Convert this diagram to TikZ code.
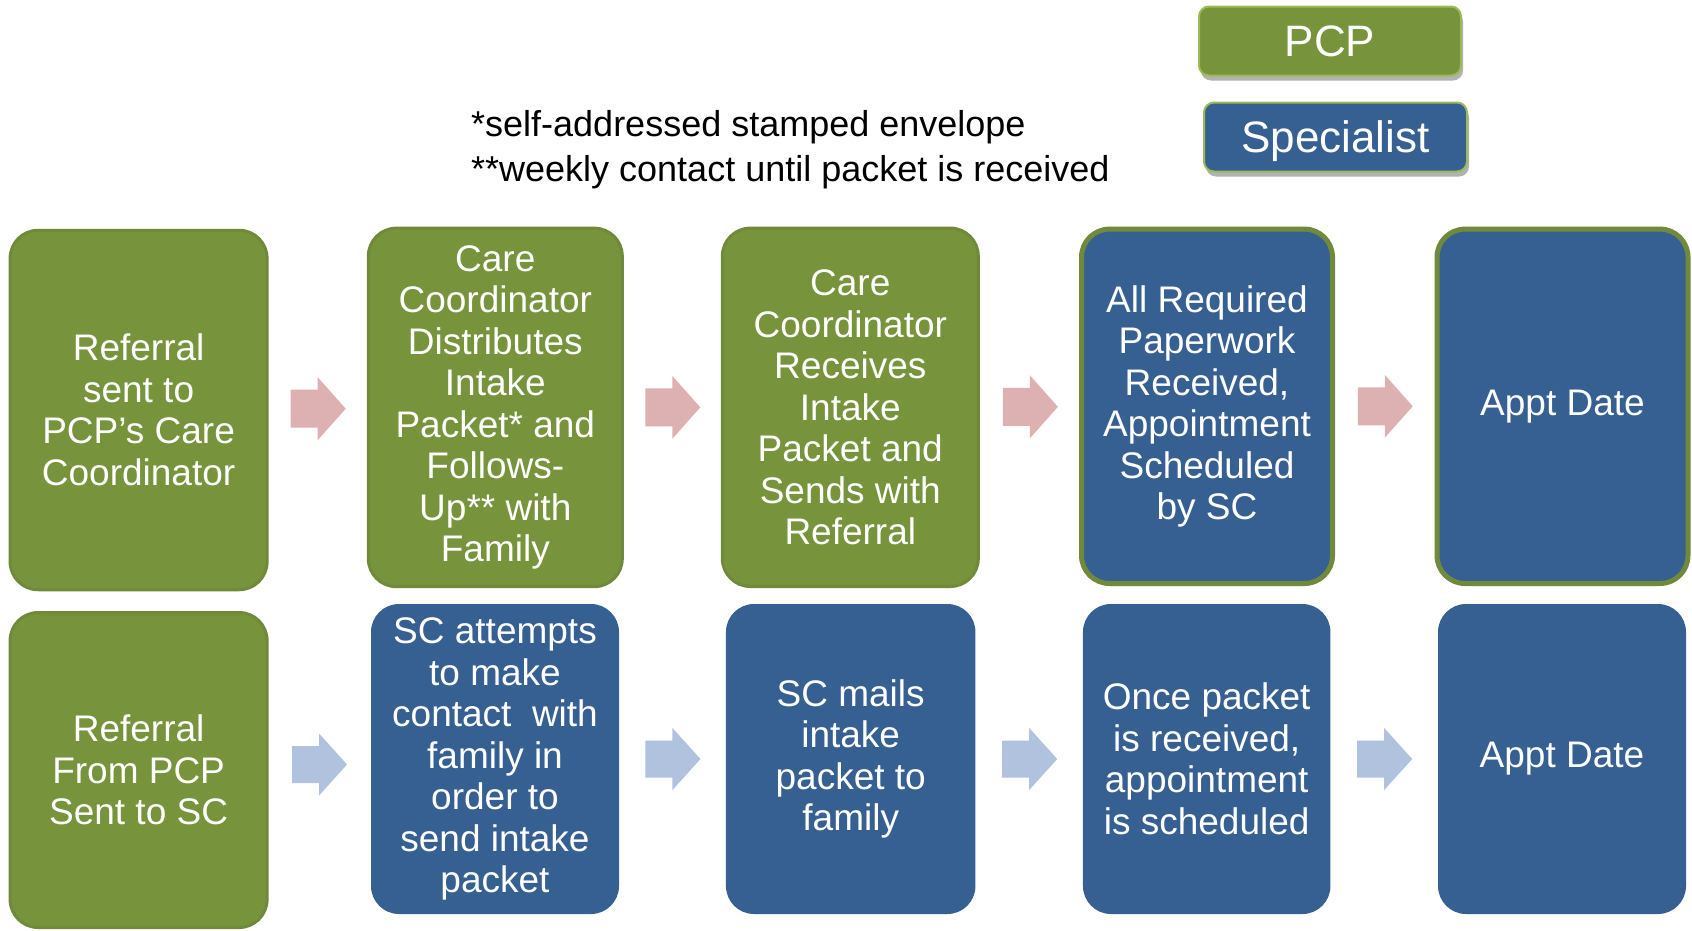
\documentclass[tikz,border=0pt]{standalone}
\usepackage{fontspec}
\setmainfont{Liberation Sans}
\usetikzlibrary{calc,shadows}
\definecolor{boxgreen}{HTML}{77933C}
\definecolor{edgegreen}{HTML}{70893A}
\definecolor{boxblue}{HTML}{376092}
\definecolor{legendedge}{HTML}{9BBB59}
\definecolor{arrowpink}{HTML}{DDB1B2}
\definecolor{arrowblue}{HTML}{B1C2DE}
\newcommand\boxfont{\fontsize{37}{41.5}\selectfont}
\newcommand\notefont{\fontsize{36}{45}\selectfont}
\newcommand\legendfont{\fontsize{44}{50}\selectfont}
\begin{document}
\begin{tikzpicture}[x=1pt,y=-1pt,
  box/.style={rounded corners=28pt, align=center, text=white, font=\boxfont, inner sep=0pt, outer sep=0pt},
  pcpbox/.style={box, fill=boxgreen, draw=edgegreen, line width=3pt},
  scbox/.style={box, fill=boxblue, draw=edgegreen, line width=5pt},
  scplain/.style={box, fill=boxblue},
  legendbox/.style={rounded corners=10pt, draw=legendedge, line width=2pt, text=white, font=\legendfont, inner sep=0pt, outer sep=0pt,
    drop shadow={shadow xshift=2pt, shadow yshift=-5pt, opacity=0.3, fill=black}},
  pinkarrow/.pic={\fill[arrowpink] (-27,-19) -- (0,-19) -- (0,-31.5) -- (28,0) -- (0,31.5) -- (0,19) -- (-27,19) -- cycle;},
  bluearrow/.pic={\fill[arrowblue] (-27,-18.5) -- (0,-18.5) -- (0,-31) -- (28,0) -- (0,31) -- (0,18.5) -- (-27,18.5) -- cycle;}
]
\useasboundingbox (0,0) rectangle (1692,930);

% legend
\node[legendbox, fill=boxgreen, minimum width=262pt, minimum height=69pt] (lpcp) at (1330,41) {PCP};
\node[legendbox, fill=boxblue, minimum width=263pt, minimum height=69pt, text depth=0pt] (lsc) at (1335.5,137) {Specialist};

% notes
\node[anchor=base west, font=\notefont, inner sep=0pt] (note1) at (471,136) {*self-addressed stamped envelope};
\node[anchor=base west, font=\notefont, inner sep=0pt] (note2) at (471,181) {**weekly contact until packet is\hspace{10pt}received};

% top row
\node[pcpbox, minimum width=257pt, minimum height=359.5pt] (b1) at (138.6,410) {Referral\\sent to\\PCP’s Care\\Coordinator};
\node[pcpbox, minimum width=254pt, minimum height=358.5pt] (b2) at (495.3,407.4) {Care\\Coordinator\\Distributes\\Intake\\Packet* and\\Follows-\\Up** with\\Family};
\node[pcpbox, minimum width=256pt, minimum height=358.4pt] (b3) at (850.3,407.3) {Care\\Coordinator\\Receives\\Intake\\Packet and\\Sends with\\Referral};
\node[scbox, minimum width=251pt, minimum height=354.4pt] (b4) at (1207,406.3) {All Required\\Paperwork\\Received,\\Appointment\\Scheduled\\by SC};
\node[scbox, minimum width=251pt, minimum height=354.4pt] (b5) at (1562.5,406.3) {Appt Date};

% bottom row
\node[pcpbox, minimum width=257pt, minimum height=315pt] (c1) at (138.6,770) {Referral\\From PCP\\Sent to SC};
\node[scplain, minimum width=248pt, minimum height=310pt] (c2) at (495,759) {SC attempts\\to make\\contact\ \ with\\family in\\order to\\send intake\\packet};
\node[scplain, minimum width=249.5pt, minimum height=310pt] (c3) at (850.7,759) {SC mails\\intake\\packet to\\family};
\node[scplain, minimum width=247.5pt, minimum height=310pt] (c4) at (1206.7,759) {Once packet\\is received,\\appointment\\is scheduled};
\node[scplain, minimum width=248pt, minimum height=310pt] (c5) at (1562,759) {Appt Date};

% arrows
\path ($(b1.east)!0.5!(b2.west)$) pic {pinkarrow};
\path ($(b2.east)!0.5!(b3.west)$) pic {pinkarrow};
\path ($(b3.east)!0.5!(b4.west)$) pic {pinkarrow};
\path ($(b4.east)!0.5!(b5.west)$) pic {pinkarrow};
\path ($(c1.east)!0.5!(c2.west)$) pic {bluearrow};
\path ($(c2.east)!0.5!(c3.west)$) pic {bluearrow};
\path ($(c3.east)!0.5!(c4.west)$) pic {bluearrow};
\path ($(c4.east)!0.5!(c5.west)$) pic {bluearrow};
\end{tikzpicture}
\end{document}
